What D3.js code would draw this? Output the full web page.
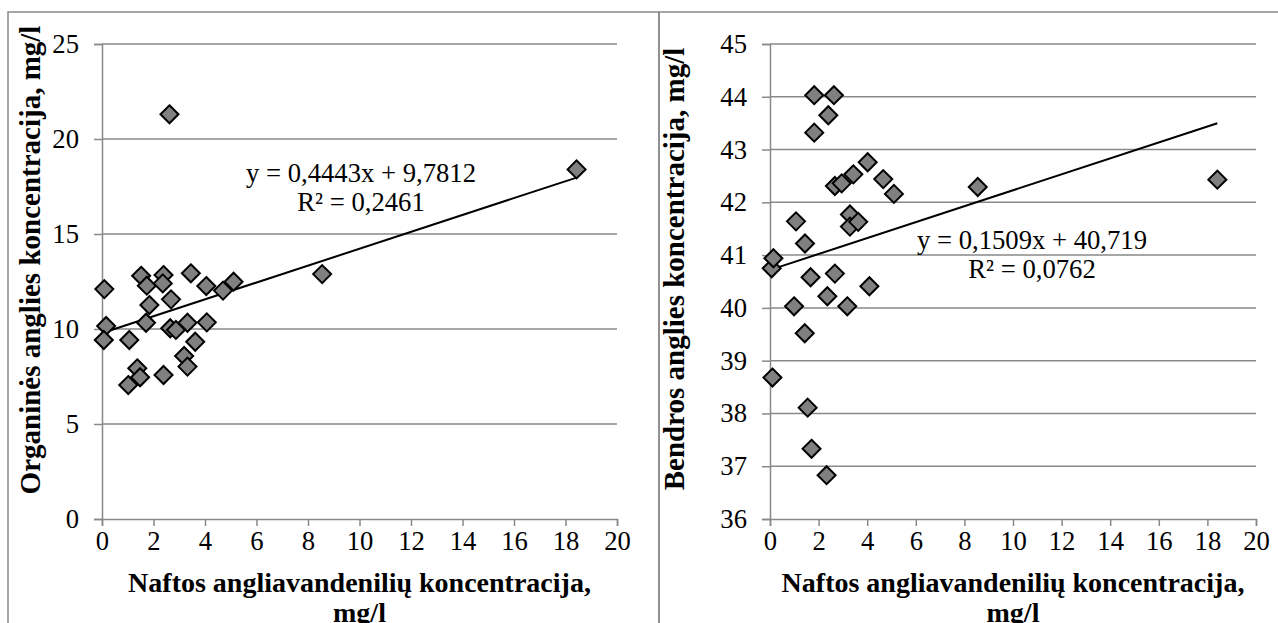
<!DOCTYPE html>
<html><head><meta charset="utf-8">
<script src="https://cdn.jsdelivr.net/npm/d3@7"></script>
<style>
html,body{margin:0;padding:0;background:#fff;}
svg{display:block;}
svg text{font-family:'Liberation Serif','Times New Roman',serif !important;}
</style></head>
<body>
<svg id="chart" width="1278" height="623"></svg>
<script>
// ---- data ----
const xTicks = [0, 2, 4, 6, 8, 10, 12, 14, 16, 18, 20];
const leftYTicks = [0, 5, 10, 15, 20, 25];
const rightYTicks = [36, 37, 38, 39, 40, 41, 42, 43, 44, 45];

const leftX = [0.09,0.16,0.07,1.06,1.02,1.37,1.48,1.52,1.74,1.84,1.71,2.39,2.36,2.39,2.68,2.65,2.87,3.45,3.32,3.19,3.32,3.62,4.05,4.07,4.70,5.11,2.62,8.55,18.43];
const leftY = [12.10,10.16,9.42,9.42,7.05,7.93,7.46,12.80,12.28,11.26,10.33,12.84,12.40,7.58,11.56,10.04,9.95,12.93,10.33,8.58,8.02,9.33,12.26,10.35,12.02,12.49,21.30,12.89,18.40];

const rightX = [0.07,0.14,0.10,0.99,1.07,1.43,1.44,1.55,1.67,1.71,1.82,1.82,2.33,2.36,2.40,2.63,2.67,2.67,2.95,3.18,3.29,3.29,3.43,3.63,4.02,4.09,4.66,5.10,8.55,18.41];
const rightY = [40.75,40.94,38.68,40.03,41.64,39.52,41.22,38.11,40.58,37.33,43.32,44.03,36.83,40.22,43.65,44.03,42.31,40.65,42.36,40.03,41.77,41.54,42.53,41.63,42.76,40.41,42.44,42.16,42.29,42.43];

const leftTrend = {slope: 0.4443, intercept: 9.7812};
const rightTrend = {slope: 0.1509, intercept: 40.719};
const leftEq = ["y = 0,4443x + 9,7812", "R² = 0,2461"];
const rightEq = ["y = 0,1509x + 40,719", "R² = 0,0762"];

const xTitle = ["Naftos angliavandenilių koncentracija,", "mg/l"];
const leftYTitle = "Organinės anglies koncentracija, mg/l";
const rightYTitle = "Bendros anglies koncentracija, mg/l";

// ---- drawing ----
const svg = d3.select("#chart");
const GRID = "#898989";
const TICK_FS = 26.67, EQ_FS = 26.67, TITLE_FS = 28, YTITLE_FS = 29;

// chart borders
svg.append("rect").attr("x", 8).attr("y", 12).attr("width", 651).attr("height", 700)
  .attr("fill", "none").attr("stroke", GRID).attr("stroke-width", 1.5);
svg.append("rect").attr("x", 659).attr("y", 12).attr("width", 700).attr("height", 700)
  .attr("fill", "none").attr("stroke", GRID).attr("stroke-width", 1.5);

function panel(cfg) {
  const x = d3.scaleLinear().domain([0, 20]).range([cfg.x0, cfg.x1]);
  const y = d3.scaleLinear().domain(cfg.yDomain).range([cfg.y1, cfg.y0]);
  const g = svg.append("g");

  // gridlines
  g.selectAll(".grid").data(cfg.yTicks.filter(t => t !== cfg.yDomain[0])).join("line")
    .attr("x1", cfg.x0).attr("x2", cfg.x1)
    .attr("y1", d => y(d)).attr("y2", d => y(d))
    .attr("stroke", GRID).attr("stroke-width", 1.5);

  // x axis
  const xa = g.append("g").attr("transform", `translate(0,${cfg.y1})`)
    .call(d3.axisBottom(x).tickValues(xTicks).tickSize(7).tickPadding(5).tickFormat(d3.format("d")));
  xa.select(".domain").attr("stroke", GRID).attr("stroke-width", 1.5);
  xa.selectAll(".tick line").attr("stroke", GRID).attr("stroke-width", 1.5);
  xa.selectAll(".tick text").attr("font-size", TICK_FS).attr("fill", "#000")
    .style("font-family", "'Liberation Serif','Times New Roman',serif");

  // y axis
  const ya = g.append("g").attr("transform", `translate(${cfg.x0},0)`)
    .call(d3.axisLeft(y).tickValues(cfg.yTicks).tickSize(8).tickPadding(15).tickFormat(d3.format("d")));
  ya.select(".domain").attr("stroke", GRID).attr("stroke-width", 1.5);
  ya.selectAll(".tick line").attr("stroke", GRID).attr("stroke-width", 1.5);
  ya.selectAll(".tick text").attr("font-size", TICK_FS).attr("fill", "#000")
    .style("font-family", "'Liberation Serif','Times New Roman',serif");

  // trend line
  const xs = cfg.xs;
  const xmin = d3.min(xs), xmax = d3.max(xs);
  g.append("line")
    .attr("x1", x(xmin)).attr("y1", y(cfg.trend.slope * xmin + cfg.trend.intercept))
    .attr("x2", x(xmax)).attr("y2", y(cfg.trend.slope * xmax + cfg.trend.intercept))
    .attr("stroke", "#000").attr("stroke-width", 2);

  // markers (diamonds)
  const r = 9;
  const pts = xs.map((v, i) => [v, cfg.ys[i]]);
  g.selectAll(".pt").data(pts).join("path")
    .attr("d", `M0,${-r}L${r},0L0,${r}L${-r},0Z`)
    .attr("transform", d => `translate(${x(d[0])},${y(d[1])})`)
    .attr("fill", "#808080").attr("stroke", "#000").attr("stroke-width", 2);

  // equation
  const eq = g.append("text").attr("font-size", EQ_FS).attr("text-anchor", "middle");
  cfg.eq.forEach((t, i) => {
    eq.append("tspan").attr("x", cfg.eqX).attr("y", cfg.eqY + i * 29).text(t);
  });

  // x title
  const xt = g.append("text").attr("font-size", TITLE_FS).attr("font-weight", "bold")
    .attr("text-anchor", "middle");
  xTitle.forEach((t, i) => {
    xt.append("tspan").attr("x", (cfg.x0 + cfg.x1) / 2).attr("y", 592 + i * 30).text(t);
  });

  // y title
  g.append("text").attr("font-size", YTITLE_FS).attr("font-weight", "bold")
    .attr("text-anchor", "middle")
    .attr("transform", `translate(${cfg.ytX},${cfg.ytY}) rotate(-90)`)
    .text(cfg.yTitle);
}

panel({x0: 102, x1: 617, y0: 44, y1: 519, yDomain: [0, 25], yTicks: leftYTicks,
  xs: leftX, ys: leftY, trend: leftTrend, eq: leftEq, eqX: 361, eqY: 182,
  yTitle: leftYTitle, ytX: 40, ytY: 260});

panel({x0: 770, x1: 1256, y0: 44, y1: 519, yDomain: [36, 45], yTicks: rightYTicks,
  xs: rightX, ys: rightY, trend: rightTrend, eq: rightEq, eqX: 1032, eqY: 249,
  yTitle: rightYTitle, ytX: 684, ytY: 269});
</script>
</body></html>
